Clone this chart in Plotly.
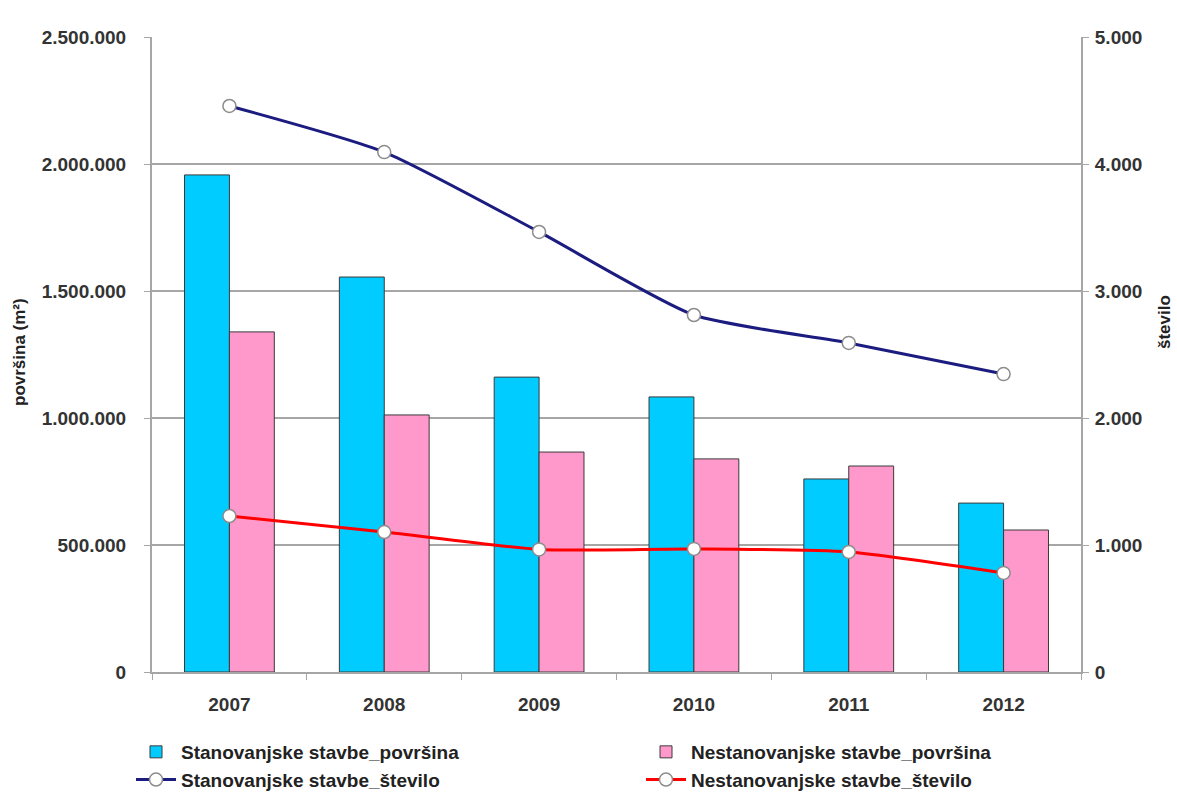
import plotly.graph_objects as go

# Years on the category axis
years = ["2007", "2008", "2009", "2010", "2011", "2012"]

# Floor area (m²), left axis
stan_povrsina = [1957000, 1555000, 1161000, 1083000, 760000, 665000]
nestan_povrsina = [1339000, 1012000, 866000, 839000, 811000, 559000]

# Number of buildings, right axis
stan_stevilo = [4457, 4094, 3465, 2811, 2591, 2346]
nestan_stevilo = [1228, 1102, 965, 969, 945, 780]

left_ticks = [0, 500000, 1000000, 1500000, 2000000, 2500000]
right_ticks = [0, 1000, 2000, 3000, 4000, 5000]

FONT = "Liberation Sans, Arial, sans-serif"
GRID = "#a6a6a6"
TXT = "#333333"

# plot area in pixels
L, R, T, B = 152, 96, 37, 126
W, H = 1177, 798
plot_w = W - L - R
plot_h = H - T - B

fig = go.Figure()

# residential series go in the left legend column, non-residential in the right
fig.add_trace(go.Bar(
    x=years, y=stan_povrsina, name="Stanovanjske stavbe_površina",
    marker=dict(color="#00CCFF", line=dict(color="#3a3a3a", width=1)),
    legend="legend",
))
fig.add_trace(go.Bar(
    x=years, y=nestan_povrsina, name="Nestanovanjske stavbe_površina",
    marker=dict(color="#FF99CC", line=dict(color="#3a3a3a", width=1)),
    legend="legend2",
))

marker_style = dict(symbol="circle", size=13, color="white",
                    line=dict(color="#8c8c8c", width=1.5))

fig.add_trace(go.Scatter(
    x=years, y=stan_stevilo, name="Stanovanjske stavbe_število",
    yaxis="y2", mode="lines+markers",
    line=dict(color="#1C1C80", width=3, shape="spline", smoothing=0.6),
    marker=marker_style, legend="legend",
))
fig.add_trace(go.Scatter(
    x=years, y=nestan_stevilo, name="Nestanovanjske stavbe_število",
    yaxis="y2", mode="lines+markers",
    line=dict(color="#FF0000", width=3, shape="spline", smoothing=0.6),
    marker=marker_style, legend="legend2",
))

# axis titles, placed in page pixels
title_font = dict(family=FONT, size=17, color="#222222", weight="bold")
fig.add_annotation(
    text="površina (m²)", textangle=-90, showarrow=False,
    xref="paper", yref="paper",
    x=(19 - L) / plot_w, y=(H - B - 352) / plot_h,
    xanchor="center", yanchor="middle", font=title_font,
)
fig.add_annotation(
    text="število", textangle=-90, showarrow=False,
    xref="paper", yref="paper",
    x=(1164 - L) / plot_w, y=(H - B - 322) / plot_h,
    xanchor="center", yanchor="middle", font=title_font,
)

legend_common = dict(
    orientation="v",
    xref="container", xanchor="left",
    yref="container", y=1 - 733 / H, yanchor="top",
    traceorder="normal",
    font=dict(family=FONT, size=19, color="#222222", weight="bold"),
    bgcolor="rgba(0,0,0,0)", tracegroupgap=0, itemwidth=40,
)

fig.update_layout(
    width=W, height=H,
    margin=dict(l=L, r=R, t=T, b=B, autoexpand=False),
    paper_bgcolor="white", plot_bgcolor="white",
    separators=",.",
    font=dict(family=FONT, size=15, color=TXT, weight="bold"),
    barmode="group", bargap=0.42, bargroupgap=0,
    xaxis=dict(
        type="category", categoryorder="array", categoryarray=years,
        showline=True, linecolor=GRID, linewidth=2,
        ticks="outside", tickson="boundaries", ticklen=6, tickcolor=GRID,
        ticklabelstandoff=14,
        tickfont=dict(family=FONT, size=19, color=TXT, weight="bold"),
        showgrid=False,
    ),
    yaxis=dict(
        range=[0, 2500000], tickvals=left_ticks, tickformat=",d",
        showline=True, linecolor=GRID, linewidth=2,
        ticks="outside", ticklen=6, tickcolor=GRID,
        ticklabelstandoff=14,
        showgrid=True, gridcolor=GRID, gridwidth=2,
        zeroline=False,
        tickfont=dict(family=FONT, size=19, color=TXT, weight="bold"),
    ),
    yaxis2=dict(
        overlaying="y", side="right", range=[0, 5000], tickvals=right_ticks,
        tickformat=",d",
        showline=True, linecolor=GRID, linewidth=2,
        ticks="outside", ticklen=6, tickcolor=GRID,
        ticklabelstandoff=2,
        showgrid=False, zeroline=False,
        tickfont=dict(family=FONT, size=19, color=TXT, weight="bold"),
    ),
    legend=dict(legend_common, x=131 / W),
    legend2=dict(legend_common, x=641 / W),
)

fig.write_html("out.html")
